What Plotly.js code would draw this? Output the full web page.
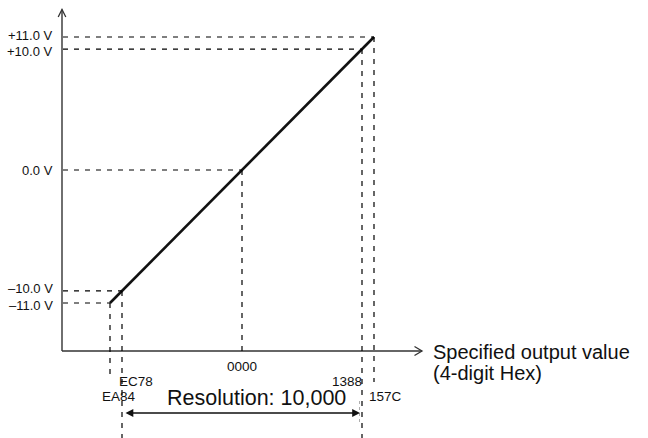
<!DOCTYPE html>
<html>
<head>
<meta charset="utf-8">
<script src="https://cdn.plot.ly/plotly-3.0.1.min.js"></script>
<style>html,body{margin:0;padding:0;background:#fff;}#chart{width:648px;height:438px;}</style>
</head>
<body>
<div id="chart"></div>
<script>
// ---- data ----
const hexLabels = ['EA84', 'EC78', '0000', '1388', '157C'];
const volts = [-11, -10, 0, 10, 11];
const voltLabels = ['\u201311.0 V', '\u201310.0 V', '0.0 V', '+10.0 V', '+11.0 V'];
const resolutionText = 'Resolution: 10,000';
const xTitle1 = 'Specified output value';
const xTitle2 = '(4-digit Hex)';

// signed 16-bit value of each hex code
const codes = hexLabels.map(h => { const v = parseInt(h, 16); return v >= 0x8000 ? v - 0x10000 : v; });

// ---- layout geometry (pixels) ----
const W = 648, H = 438;
const pxLo = 110, pxHi = 374, pyLo = 303, pyHi = 37;
const kx = (pxHi - pxLo) / (codes[4] - codes[0]);
const ky = (pyLo - pyHi) / (volts[4] - volts[0]);
const xmin = codes[0] - pxLo / kx, xmax = xmin + W / kx;
const ymin = volts[0] - (H - pyLo) / ky, ymax = ymin + H / ky;
const dx = px => xmin + px / kx;
const dy = py => ymin + (H - py) / ky;

const axisX = 62, axisY = 351;
const font = 'Liberation Sans, Arial, Helvetica, sans-serif';
const ink = '#111';
const dash = {color: '#000', width: 1.2, dash: '5px,6px'};

const shapes = [];
// axes
shapes.push({type: 'line', xref: 'x', yref: 'y', x0: dx(axisX), x1: dx(axisX), y0: dy(axisY), y1: dy(9.5), line: {color: '#333', width: 1.4}});
shapes.push({type: 'path', xref: 'x', yref: 'y', path: `M${dx(58.2)},${dy(17)} L${dx(axisX)},${dy(9.5)} L${dx(65.8)},${dy(17)}`, line: {color: '#333', width: 1.3}});
shapes.push({type: 'line', xref: 'x', yref: 'y', x0: dx(axisX), x1: dx(422), y0: dy(axisY), y1: dy(axisY), line: {color: '#333', width: 1.4}});
shapes.push({type: 'path', xref: 'x', yref: 'y', path: `M${dx(414.5)},${dy(346.5)} L${dx(422)},${dy(axisY)} L${dx(414.5)},${dy(355.5)}`, line: {color: '#333', width: 1.3}});

// guide lines
const vBottom = [380, 438, axisY, 438, 382];
for (let i = 0; i < codes.length; i++) {
  shapes.push({type: 'line', xref: 'x', yref: 'y', x0: dx(axisX + 1), x1: codes[i], y0: volts[i], y1: volts[i], line: dash});
  shapes.push({type: 'line', xref: 'x', yref: 'y', x0: codes[i], x1: codes[i], y0: volts[i], y1: dy(vBottom[i]), line: dash});
}
// faint end marker of resolution arrow
shapes.push({type: 'line', xref: 'x', yref: 'y', x0: dx(359.5), x1: dx(359.5), y0: dy(401), y1: dy(423), line: {color: '#999', width: 0.8, dash: 'dot'}});

const annotations = [];
// y labels (pairs nudged apart slightly so they do not touch)
const vShift = [-2, 2, 0, -2, 2];
for (let i = 0; i < volts.length; i++) {
  annotations.push({x: dx(55), y: volts[i], xref: 'x', yref: 'y', text: voltLabels[i], showarrow: false,
    xanchor: 'right', yanchor: 'middle', yshift: vShift[i], font: {family: font, size: 13, color: ink}});
}
// hex labels
const hexAnchor = ['left', 'left', 'center', 'right', 'left'];
const hexShift = [-10, -5, 0, 2, -7];
const hexY = [396, 381, 366, 381, 396];
for (let i = 0; i < codes.length; i++) {
  annotations.push({x: codes[i], y: dy(hexY[i]), xref: 'x', yref: 'y', text: hexLabels[i], showarrow: false,
    xanchor: hexAnchor[i], xshift: hexShift[i], yanchor: 'middle', font: {family: font, size: 13.5, color: ink}});
}
// resolution arrow
annotations.push({x: dx(360), y: dy(413), ax: dx(124), ay: dy(413), xref: 'x', yref: 'y', axref: 'x', ayref: 'y',
  text: '', showarrow: true, arrowside: 'end+start', arrowhead: 2, startarrowhead: 2, arrowsize: 1.2, startarrowsize: 1.2,
  arrowwidth: 1.3, arrowcolor: ink, standoff: 0, startstandoff: 0});
annotations.push({x: dx(165), y: dy(398), xref: 'x', yref: 'y', text: resolutionText, showarrow: false,
  xanchor: 'left', yanchor: 'middle', font: {family: font, size: 21.5, color: ink}});
// axis title
annotations.push({x: dx(431), y: dy(352), xref: 'x', yref: 'y', text: xTitle1, showarrow: false,
  xanchor: 'left', yanchor: 'middle', font: {family: font, size: 20, color: ink}});
annotations.push({x: dx(431), y: dy(373), xref: 'x', yref: 'y', text: xTitle2, showarrow: false,
  xanchor: 'left', yanchor: 'middle', font: {family: font, size: 20, color: ink}});

const traces = [{
  x: codes, y: volts, type: 'scatter', mode: 'lines',
  line: {color: '#111', width: 2.6}, hoverinfo: 'skip', cliponaxis: false
}];

const layout = {
  width: W, height: H,
  margin: {l: 0, r: 0, t: 0, b: 0, pad: 0},
  paper_bgcolor: '#fff', plot_bgcolor: '#fff',
  showlegend: false,
  xaxis: {range: [xmin, xmax], visible: false, fixedrange: true},
  yaxis: {range: [ymin, ymax], visible: false, fixedrange: true},
  shapes: shapes, annotations: annotations
};

Plotly.newPlot('chart', traces, layout, {staticPlot: true, displayModeBar: false});
</script>
</body>
</html>
